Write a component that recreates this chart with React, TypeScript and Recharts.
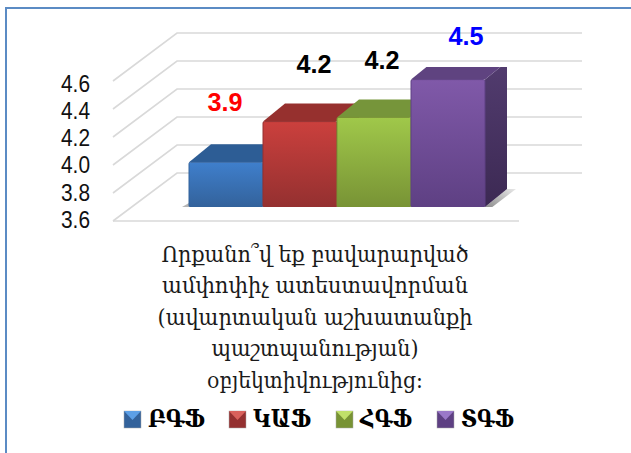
import { BarChart, Bar, XAxis, YAxis, CartesianGrid, Legend } from 'recharts';

const CATEGORY = 'Որքանո՞վ եք բավարարված ամփոփիչ ատեստավորման (ավարտական աշխատանքի պաշտպանության) օբյեկտիվությունից։';
const SERIES_NAMES = ['ԲԳՖ', 'ԿԱՖ', 'ՀԳՖ', 'ՏԳՖ'];
const SERIES_VALUES = [3.92, 4.21, 4.24, 4.51];
const Y_TICKS = [3.6, 3.8, 4.0, 4.2, 4.4, 4.6];
const TITLE_LINES = [
    'Որքանո՞վ եք բավարարված',
    'ամփոփիչ ատեստավորման',
    '(ավարտական աշխատանքի',
    'պաշտպանության)',
    'օբյեկտիվությունից։',
];

// Styling per series
const FRONT_TOP = ['#3f7fcc', '#cb403d', '#a0c84a', '#8059a9'];
const FRONT_BOTTOM = ['#33629b', '#943030', '#789335', '#5e4083'];
const TOP_FACE = ['#2d5d95', '#96302e', '#76953a', '#5f4380'];
const SIDE_TOP = ['#2a5688', '#80302c', '#67802f', '#523c6f'];
const SIDE_BOTTOM = ['#1f4168', '#642422', '#4f6325', '#3c2953'];
const SWATCH_LIGHT = ['#5c9fe6', '#d9615c', '#c0e06a', '#9a78c8'];
const LABEL_COLORS = ['#ff0000', '#000000', '#000000', '#0000ff'];
const LABEL_DX = [-1, 14, 8, 18];
const LABEL_LIFT = [51, 49, 48, 35];
const LEGEND_X = [124, 229, 336, 437];
const LEGEND_TEXT_WIDTH = [57, 58, 52, 53];
const TITLE_WIDTHS = [307, 306, 315, 207, 216];

const DEPTH_X = 22;
const DEPTH_Y = 18;

const chartData = [
    SERIES_NAMES.reduce<Record<string, string | number>>(
        (row, name, i) => {
            row[name] = SERIES_VALUES[i];
            return row;
        },
        { category: CATEGORY },
    ),
];

// Slanted wall line + back line of the fake 3D grid
function GridLine(props: any) {
    const y = props.y1;
    const isFloor = Math.abs(y - 207) < 1;
    return (
        <g key={props.key ?? y}>
            <polyline
                points={`113,${y + 14} 177,${y - 34} 582,${y - 34}`}
                fill="none"
                stroke="#d9d9d9"
                strokeWidth={1.6}
            />
            {isFloor && <line x1={113} y1={y + 14} x2={519} y2={y + 14} stroke="#d9d9d9" strokeWidth={1.6} />}
        </g>
    );
}

function YTick({ y, payload }: any) {
    // labels sit a little tighter than the grid lines in the original
    const baseline = 228 - (207 - y) * 0.975;
    return (
        <text
            x={90}
            y={baseline}
            textAnchor="end"
            fontFamily="'Liberation Sans', sans-serif"
            fontSize={24.5}
            fill="#111"
            textLength={29}
            lengthAdjust="spacingAndGlyphs"
        >
            {Number(payload.value).toFixed(1)}
        </text>
    );
}

function TitleTick() {
    return (
        <g fontFamily="'DejaVu Serif', serif" fontSize={23} fill="#1a1a1a" textAnchor="middle">
            {TITLE_LINES.map((line, i) => (
                <text
                    key={line}
                    x={315}
                    y={262 + i * 31.4}
                    textLength={TITLE_WIDTHS[i]}
                    lengthAdjust="spacingAndGlyphs"
                >
                    {line}
                </text>
            ))}
        </g>
    );
}

// 3D box for one series, built from the scaled rectangle Recharts hands over
function Box3D(props: any) {
    const { x, y, width, height, seriesIndex: s } = props;
    const r = x + width;
    const b = y + height;
    const id = `s${s}`;
    return (
        <g>
            <defs>
                <linearGradient id={`front-${id}`} x1="0" y1="0" x2="0" y2="1">
                    <stop offset="0%" stopColor={FRONT_TOP[s]} />
                    <stop offset="100%" stopColor={FRONT_BOTTOM[s]} />
                </linearGradient>
                <linearGradient id={`side-${id}`} x1="0" y1="0" x2="0" y2="1">
                    <stop offset="0%" stopColor={SIDE_TOP[s]} />
                    <stop offset="100%" stopColor={SIDE_BOTTOM[s]} />
                </linearGradient>
                <linearGradient id="floor-shadow" x1="0" y1="1" x2="1" y2="0">
                    <stop offset="0%" stopColor="#8a8a8a" />
                    <stop offset="100%" stopColor="#e8e8e8" />
                </linearGradient>
            </defs>
            {s === 0 && <polygon points={`${x},${b - 4} ${x - 7},${b} ${x},${b}`} fill="#b5b5b5" />}
            {s === SERIES_NAMES.length - 1 && (
                <polygon
                    points={`${r},${b} ${r + DEPTH_X},${b - DEPTH_Y} ${r + DEPTH_X + 9},${b - DEPTH_Y} ${r + 6},${b + 1}`}
                    fill="url(#floor-shadow)"
                />
            )}
            <polygon
                points={`${r},${y} ${r + DEPTH_X},${y - DEPTH_Y} ${r + DEPTH_X},${b - DEPTH_Y} ${r},${b}`}
                fill={`url(#side-${id})`}
            />
            <polygon
                points={`${x},${y} ${x + DEPTH_X},${y - DEPTH_Y} ${r + DEPTH_X},${y - DEPTH_Y} ${r},${y}`}
                fill={TOP_FACE[s]}
            />
            <rect
                x={x}
                y={y}
                width={width}
                height={height}
                rx={1.5}
                fill={`url(#front-${id})`}
                stroke={FRONT_BOTTOM[s]}
                strokeWidth={1}
            />
        </g>
    );
}

function ValueLabel(props: any) {
    const { x, y, width, value, seriesIndex: s } = props;
    return (
        <text
            x={x + width / 2 + LABEL_DX[s]}
            y={y - LABEL_LIFT[s]}
            textAnchor="middle"
            fontFamily="'Liberation Sans', sans-serif"
            fontWeight="bold"
            fontSize={26}
            textLength={35}
            lengthAdjust="spacingAndGlyphs"
            fill={LABEL_COLORS[s]}
        >
            {Number(value).toFixed(1)}
        </text>
    );
}

function LegendContent() {
    return (
        <svg width={631} height={43} style={{ display: 'block', overflow: 'visible' }}>
            {SERIES_NAMES.map((name, i) => {
                const x = LEGEND_X[i];
                return (
                    <g key={name}>
                        <rect x={x} y={1} width={17} height={17} fill={FRONT_BOTTOM[i]} stroke="#aaa" strokeWidth={0.5} />
                        <polygon points={`${x},1 ${x + 17},1 ${x + 8.5},10`} fill={SWATCH_LIGHT[i]} />
                        <text
                            x={x + 24}
                            y={17}
                            fontFamily="'DejaVu Serif', serif"
                            fontWeight="bold"
                            fontSize={25}
                            fill="#000"
                            textLength={LEGEND_TEXT_WIDTH[i]}
                            lengthAdjust="spacingAndGlyphs"
                        >
                            {name}
                        </text>
                    </g>
                );
            })}
        </svg>
    );
}

export default function App() {
    return (
        <div style={{ position: 'absolute', left: 0, top: 0, width: 631, height: 453, background: '#fff', overflow: 'hidden' }}>
            <div
                style={{
                    position: 'absolute',
                    left: 5,
                    top: 7,
                    width: 640,
                    height: 460,
                    border: '2px solid #5b8bc4',
                    boxSizing: 'border-box',
                }}
            />
            <div style={{ position: 'absolute', left: 0, top: 0 }}>
                <BarChart
                    width={631}
                    height={453}
                    data={chartData}
                    margin={{ top: 67, right: 148, bottom: 0, left: 109 }}
                    barCategoryGap={0}
                    barGap={0}
                >
                    <CartesianGrid vertical={false} horizontal={GridLine as any} />
                    <XAxis
                        dataKey="category"
                        height={206}
                        axisLine={false}
                        tickLine={false}
                        interval={0}
                        tick={<TitleTick />}
                    />
                    <YAxis
                        width={80}
                        domain={[3.6, 4.6]}
                        ticks={Y_TICKS}
                        allowDataOverflow
                        axisLine={false}
                        tickLine={false}
                        interval={0}
                        tick={<YTick />}
                    />
                    <Legend
                        content={<LegendContent />}
                        wrapperStyle={{ position: 'absolute', left: 0, top: 410, width: 631, height: 40 }}
                    />
                    {SERIES_NAMES.map((name, i) => (
                        <Bar
                            key={name}
                            dataKey={name}
                            fill={FRONT_TOP[i]}
                            isAnimationActive={false}
                            shape={(p: any) => <Box3D {...p} seriesIndex={i} />}
                            label={(p: any) => <ValueLabel {...p} seriesIndex={i} />}
                        />
                    ))}
                </BarChart>
            </div>
        </div>
    );
}
